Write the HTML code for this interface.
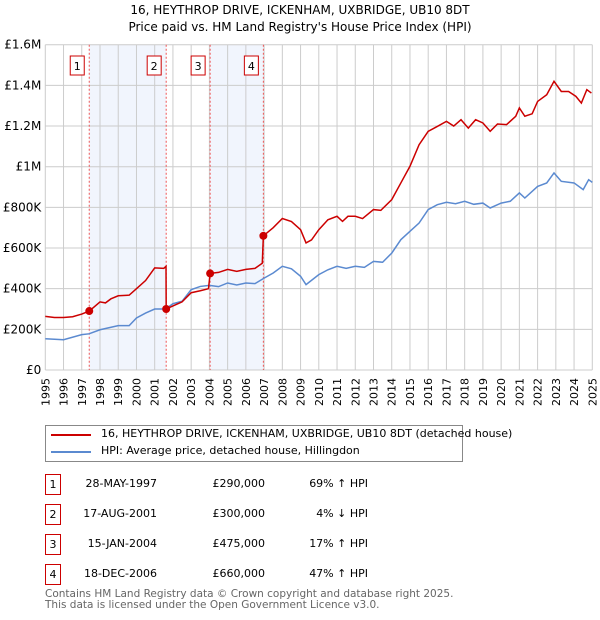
<!DOCTYPE html>
<html><head><meta charset="utf-8"><style>
body{margin:0;width:600px;height:620px;background:#fff;font-family:"DejaVu Sans","Liberation Sans",sans-serif;position:relative;overflow:hidden}
.t{position:absolute;white-space:nowrap;font-size:12px;color:#000}
.box{position:absolute;width:14px;height:19px;border:1px solid #c00;font-size:11px;text-align:center;line-height:19px;left:45px}
.r{position:absolute;font-size:11px;text-align:right;white-space:nowrap}
</style></head><body>
<div class="t" style="top:2px;left:0;width:600px;text-align:center;line-height:17px">16, HEYTHROP DRIVE, ICKENHAM, UXBRIDGE, UB10 8DT<br>Price paid vs. HM Land Registry's House Price Index (HPI)</div>
<svg id="chart" width="600" height="420" style="position:absolute;left:0;top:0" font-family="DejaVu Sans, Liberation Sans, sans-serif" font-size="11"></svg>
<div style="position:absolute;left:45px;top:425px;width:416px;height:35px;border:1px solid #888">
<div style="position:absolute;left:5px;top:8px;width:40px;height:2px;background:#c00"></div>
<div class="t" style="left:55px;top:1px;font-size:11px">16, HEYTHROP DRIVE, ICKENHAM, UXBRIDGE, UB10 8DT (detached house)</div>
<div style="position:absolute;left:5px;top:25px;width:40px;height:2px;background:#5b8ad0"></div>
<div class="t" style="left:55px;top:18px;font-size:11px">HPI: Average price, detached house, Hillingdon</div>
</div>
<div id="tbl"></div>
<div class="t" style="left:45px;top:589px;font-size:10.5px;color:#666;line-height:11px">Contains HM Land Registry data © Crown copyright and database right 2025.<br>This data is licensed under the Open Government Licence v3.0.</div>
<script>
const redYears=[1995,1995.5,1996,1996.5,1997,1997.41,1998,1998.3,1998.6,1999,1999.6,2000,2000.5,2001,2001.5,2001.62,2001.63,2002,2002.5,2003,2003.5,2003.95,2004.04,2004.5,2005,2005.5,2006,2006.5,2006.9,2006.96,2007.5,2008,2008.5,2009,2009.3,2009.6,2010,2010.5,2011,2011.3,2011.6,2012,2012.4,2013,2013.4,2014,2014.5,2015,2015.5,2016,2016.5,2017,2017.4,2017.8,2018.2,2018.6,2019,2019.4,2019.8,2020.3,2020.8,2021,2021.3,2021.7,2022,2022.5,2022.9,2023.3,2023.7,2024.1,2024.4,2024.7,2024.95];
const redVals=[264,258,258,262,275,290,335,330,350,365,368,400,440,502,500,510,300,315,335,380,390,400,475,480,495,485,495,500,525,660,700,745,730,690,625,640,690,739,756,731,756,756,745,789,785,838,920,1002,1108,1174,1198,1223,1200,1231,1190,1231,1215,1174,1210,1207,1248,1289,1248,1260,1321,1354,1420,1370,1370,1346,1313,1379,1362];
const hpiYears=[1995,1996,1997,1997.4,1998,1999,1999.6,2000,2000.5,2001,2001.6,2002,2002.5,2003,2003.5,2004,2004.5,2005,2005.5,2006,2006.5,2007,2007.5,2008,2008.5,2009,2009.3,2010,2010.5,2011,2011.5,2012,2012.5,2013,2013.5,2014,2014.5,2015,2015.5,2016,2016.5,2017,2017.5,2018,2018.5,2019,2019.4,2020,2020.5,2021,2021.3,2022,2022.5,2022.9,2023.3,2024,2024.5,2024.8,2025];
const hpiVals=[154,149,174,178,198,218,218,256,280,300,300,326,338,395,411,416,410,428,418,428,425,452,477,510,498,461,420,469,493,510,500,510,505,534,530,575,641,682,723,789,813,825,818,830,815,821,797,821,830,871,846,903,920,969,928,920,887,936,923];
const saleYears=[1997.41,2001.63,2004.04,2006.96];
const saleVals=[290,300,475,660];
const saleLabels=["1","2","3","4"];
const saleDates=["28-MAY-1997","17-AUG-2001","15-JAN-2004","18-DEC-2006"];
const salePrices=["£290,000","£300,000","£475,000","£660,000"];
const saleHpi=["69% ↑ HPI","4% ↓ HPI","17% ↑ HPI","47% ↑ HPI"];
const yTicks=[0,200,400,600,800,1000,1200,1400,1600];
const yTickLabels=["£0","£200K","£400K","£600K","£800K","£1M","£1.2M","£1.4M","£1.6M"];
const X0=45.3,X1=592.3,Y0=370,Y1=44.7;
const sx=y=>X0+(y-1995)/30*(X1-X0);
const sy=v=>Y0-v/1600*(Y0-Y1);
const NS="http://www.w3.org/2000/svg";
const svg=document.getElementById('chart');
function mk(tag,attrs){const e=document.createElementNS(NS,tag);for(const k in attrs)e.setAttribute(k,attrs[k]);svg.appendChild(e);return e;}
for(let i=0;i<4;i+=2){
 const r=mk('rect',{x:sx(saleYears[i]),y:Y1,width:sx(saleYears[i+1])-sx(saleYears[i]),height:Y0-Y1,fill:'#eef2fc',opacity:0.8});
 
 
}
for(let y=1995;y<=2025;y++){
 const l=mk('line',{x1:sx(y),x2:sx(y),y1:Y1,y2:Y0,stroke:'#ccc','stroke-width':1});
 
 
 const t=mk('text',{x:0,y:0,transform:`translate(${sx(y)+4},${Y0+8}) rotate(-90)`,'text-anchor':'end',fill:'#000'});
 t.textContent=y;
 
 
}
yTicks.forEach((v,i)=>{
 const l=mk('line',{x1:X0,x2:X1,y1:sy(v),y2:sy(v),stroke:'#ccc','stroke-width':1});
 
 
 const t=mk('text',{x:X0-4,y:sy(v)+4,'text-anchor':'end','font-size':12});
 t.textContent=yTickLabels[i];
 
 
});
saleYears.forEach((y,i)=>{
 const l=mk('line',{x1:sx(y),x2:sx(y),y1:Y1,y2:Y0,stroke:'#e55','stroke-width':1,'stroke-dasharray':'2,2'});
 
 
 const r=mk('rect',{x:sx(y)-19,y:56,width:14,height:19,fill:'#fff',stroke:'#c00'});
 
 
 const t=mk('text',{x:sx(y)-12,y:70,'text-anchor':'middle'});
 t.textContent=saleLabels[i];
 
 
});
const hp=mk('polyline',{points:hpiYears.map((y,i)=>sx(y)+','+sy(hpiVals[i])).join(' '),fill:'none',stroke:'#5b8ad0','stroke-width':1.5});


const rp=mk('polyline',{points:redYears.map((y,i)=>sx(y)+','+sy(redVals[i])).join(' '),fill:'none',stroke:'#c00','stroke-width':1.5});


saleYears.forEach((y,i)=>{
 const c=mk('circle',{cx:sx(y),cy:sy(saleVals[i]),r:4,fill:'#c00'});
 
 
});
const tb=document.getElementById('tbl');
const rowY=[474,504,534,564];
saleLabels.forEach((s,i)=>{
 const b=document.createElement('div');b.className='box';b.style.top=rowY[i]+'px';b.textContent=s;
 
 
 tb.appendChild(b);
 [[saleDates[i],157,'sale-date'],[salePrices[i],265,'sale-price'],[saleHpi[i],368,'sale-hpi-diff']].forEach(([txt,right,n])=>{
  const d=document.createElement('div');d.className='r';d.style.top=(rowY[i]+3)+'px';d.style.right=(600-right)+'px';d.textContent=txt;
  
  
  tb.appendChild(d);
 });
});
</script>
</body></html>
